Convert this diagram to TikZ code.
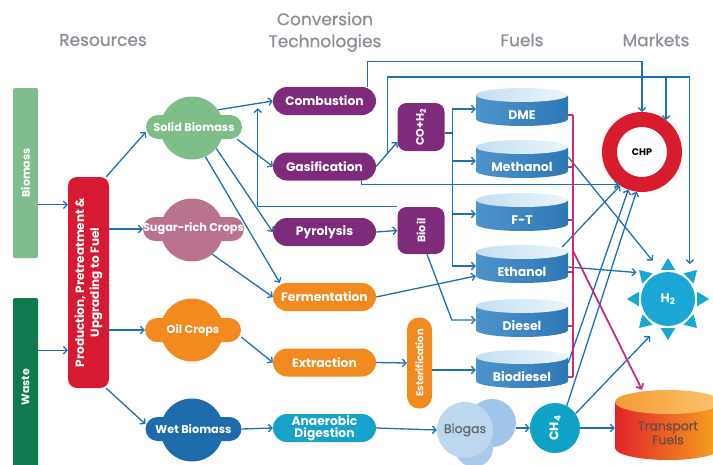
\documentclass[tikz,border=0pt]{standalone}
\usepackage{fontspec}
\setmainfont{Poppins}
\newfontfamily\headfont{Poppins}[FakeBold=0.7]
\usepackage{graphicx}
\usetikzlibrary{arrows.meta,calc}

\definecolor{titlegray}{HTML}{8A8F95}
\definecolor{biogreen}{HTML}{80BC8D}
\definecolor{wastegreen}{HTML}{0F7A50}
\definecolor{prodred}{HTML}{D71A31}
\definecolor{solidgreen}{HTML}{7EBC88}
\definecolor{sugarpink}{HTML}{B9738F}
\definecolor{oilorange}{HTML}{F38A1F}
\definecolor{wetblue}{HTML}{1E6BAC}
\definecolor{convpurple}{HTML}{7E2B7C}
\definecolor{digcyan}{HTML}{17A3C9}
\definecolor{lineblue}{HTML}{1E70B4}
\definecolor{magpink}{HTML}{C42D80}
\definecolor{chpred}{HTML}{D91B2E}
\definecolor{sunblue}{HTML}{1BA7D5}
\definecolor{ch4cyan}{HTML}{0FA2C7}
\definecolor{gasA}{HTML}{BDD7EF}
\definecolor{gasB}{HTML}{A1C5E8}
\definecolor{gasC}{HTML}{A9CAEA}
\definecolor{gastext}{HTML}{5E666F}
\definecolor{fuelL}{HTML}{4E94CB}
\definecolor{fuelM}{HTML}{A9D1EC}
\definecolor{fuelR}{HTML}{2E77B6}
\definecolor{fueltopA}{HTML}{C4DFF2}
\definecolor{fueltopB}{HTML}{EAF5FC}
\definecolor{tfL}{HTML}{E0232B}
\definecolor{tfM}{HTML}{F47B20}
\definecolor{tfR}{HTML}{F7A61E}
\definecolor{tftopA}{HTML}{F49A35}
\definecolor{tftopB}{HTML}{FBC56E}
\definecolor{tftext}{HTML}{6A4B44}

\tikzset{
  headtxt/.style={text=titlegray, font=\headfont\fontsize{17}{22}\selectfont, align=center},
  srcbar/.style={fill=#1, minimum width=25pt, rounded corners=2pt, inner sep=0pt, text=white, font=\bfseries\fontsize{11}{13}\selectfont},
  prodbox/.style={fill=prodred, minimum width=41pt, minimum height=211pt, rounded corners=9pt, inner sep=0pt, text=white, font=\bfseries\fontsize{12}{15}\selectfont},
  blob/.style={circle, fill=#1, minimum size=63pt, inner sep=0pt},
  blobtxt/.style={fill=#1, rounded corners=12pt, minimum width=96pt, minimum height=24pt, inner sep=0pt, text=white, font=\bfseries\fontsize{11.3}{13}\selectfont},
  conv/.style={fill=#1, rounded corners=14pt, minimum width=103pt, minimum height=28pt, inner sep=0pt, text=white, font=\bfseries\fontsize{12.3}{12}\selectfont, align=center},
  midbox/.style={fill=convpurple, rounded corners=9pt, minimum width=47pt, minimum height=48pt, inner sep=0pt, text=white, font=\bfseries\fontsize{11}{13}\selectfont},
  fueltxt/.style={minimum width=92pt, minimum height=16pt, inner sep=0pt, text=white, font=\bfseries\fontsize{12.5}{14}\selectfont},
  arr/.style={draw=lineblue, line width=1.3pt, -{Straight Barb[length=3.5pt,width=7.5pt]}},
  plainline/.style={draw=lineblue, line width=1.3pt},
  bracket/.style={draw=magpink, line width=1.8pt},
  bracketarr/.style={bracket, -{Straight Barb[length=4pt,width=8pt]}},
}

\begin{document}
\begin{tikzpicture}[x=1pt,y=-1pt]
\useasboundingbox (0,0) rectangle (713,464);

% column heads
\node[headtxt] (tres) at (103,40) {Resources};
\node[headtxt] (tconv) at (325,32) {Conversion\\Technologies};
\node[headtxt] (tfuel) at (522,40) {Fuels};
\node[headtxt] (tmark) at (656,40) {Markets};

% resources
\node[srcbar=biogreen, minimum height=170pt] (biomass) at (25.5,173) {\rotatebox{90}{Biomass}};
\node[srcbar=wastegreen, minimum height=178pt] (waste) at (25.5,387) {\rotatebox{90}{Waste}};
\node[prodbox] (prod) at (88.5,282.5) {\rotatebox{90}{\begin{tabular}{@{}c@{}}Production, Pretreatment \&\\Upgrading to Fuel\end{tabular}}};

\node[blob=solidgreen] (solidc) at (192,128) {};
\node[blobtxt=solidgreen] (solid) at (194,127) {Solid Biomass};
\node[blob=sugarpink] (sugarc) at (192,230) {};
\node[blobtxt=sugarpink] (sugar) at (193.5,229) {Sugar-rich Crops};
\node[blob=oilorange] (oilc) at (192,330) {};
\node[blobtxt=oilorange] (oil) at (193,330) {Oil Crops};
\node[blob=wetblue] (wetc) at (192,430) {};
\node[blobtxt=wetblue] (wet) at (193.5,429) {Wet Biomass};

% conversion
\node[conv=convpurple] (comb) at (324.5,101) {Combustion};
\node[conv=convpurple] (gasif) at (324.5,166.5) {Gasification};
\node[conv=convpurple] (pyro) at (324.5,232) {Pyrolysis};
\node[conv=oilorange] (ferm) at (324.5,297) {Fermentation};
\node[conv=oilorange] (extr) at (324.5,362.5) {Extraction};
\node[conv=digcyan] (anaer) at (324.5,428) {Anaerobic\\Digestion};

\node[midbox] (coh) at (421,127) {\rotatebox{90}{CO+H\textsubscript{2}}};
\node[midbox, minimum height=47pt] (bioil) at (421,230.5) {\rotatebox{90}{Bioil}};
\node[conv=oilorange, minimum width=25pt, minimum height=91pt, rounded corners=12pt, font=\bfseries\fontsize{10}{12}\selectfont] (ester) at (419.5,363) {\rotatebox{90}{Esterification}};

% fuels
\foreach \t/\n/\l in {115/dme/DME,167/meth/Methanol,220/ft/F-T,272/eth/Ethanol,326/dies/Diesel,377/biod/Biodiesel}{
  \shade[left color=fuelL, middle color=fuelM, right color=fuelR]
    (476,\t-20) -- (476,\t+4) arc[start angle=180, end angle=360, x radius=46pt, y radius=7pt] -- (568,\t-20) -- cycle;
  \shade[left color=fueltopA, right color=fueltopB] (522,\t-20) ellipse[x radius=46pt, y radius=7pt];
  \node[fueltxt] (\n) at (522,\t) {\l};
}

\node[circle, fill=gasB, minimum size=48pt, inner sep=0pt] (biogasb) at (492,423) {};
\node[circle, fill=gasC, minimum size=38pt, inner sep=0pt] (biogasc) at (474,448) {};
\node[circle, fill=gasA, minimum size=56pt, inner sep=0pt, text=gastext, font=\headfont\fontsize{12.5}{14}\selectfont] (biogas) at (465,430) {Biogas};
\node[circle, fill=ch4cyan, minimum size=50pt, inner sep=0pt, text=white, font=\bfseries\fontsize{12.5}{14}\selectfont] (ch4) at (555,428) {\rotatebox{90}{CH\textsubscript{4}}};

% markets
\node[circle, draw=chpred, line width=15pt, minimum size=65pt, inner sep=0pt, font=\bfseries\fontsize{9.5}{11}\selectfont] (chp) at (642,152) {CHP};

\node[circle, minimum size=82pt, inner sep=0pt] (h2) at (668,299) {};
\fill[sunblue] (h2.center) circle (27pt);
\foreach \a in {0,45,...,315}
  \fill[sunblue, shift={(h2.center)}] (\a:41pt) -- (\a+14:30pt) -- (\a-14:30pt) -- cycle;
\node[text=white, font=\bfseries\fontsize{12.5}{14}\selectfont] (h2txt) at (h2) {H\textsubscript{2}};

\shade[left color=tfL, middle color=tfM, right color=tfR]
  (615,402) -- (615,448) arc[start angle=180, end angle=360, x radius=53pt, y radius=12pt] -- (721,402) -- cycle;
\shade[left color=tftopA, right color=tftopB] (668,402) ellipse[x radius=53pt, y radius=12pt];
\node[minimum width=106pt, minimum height=86pt, inner sep=0pt, align=center, text=tftext, font=\headfont\fontsize{12.5}{14}\selectfont] (transport) at (668,433) {Transport\\Fuels};

% feeding the resources
\coordinate (bmin) at ([yshift=-28pt]prod.north west);
\coordinate (wsin) at ([yshift=38pt]prod.south west);
\draw[arr] (biomass.east |- bmin) -- (bmin);
\draw[arr] (waste.east |- wsin) -- (wsin);
\draw[arr] ([xshift=-3pt]prod.north east) -- ([yshift=-5pt]solid.west);
\draw[arr] (prod.east |- sugar.west) -- (sugar.west);
\draw[arr] (prod.east |- oil.west) -- (oil.west);
\draw[arr] ([xshift=-3pt]prod.south east) -- ([yshift=5pt]wet.west);

% resources to conversion
\draw[arr] (solidc.35) -- (comb.west);
\draw[arr] ([xshift=-5pt]solid.south east) -- (gasif.west);
\draw[arr] (solidc.-40) -- (pyro.west);
\draw[arr] (solidc.-65) -- ([xshift=7pt]ferm.north west);
\draw[arr] (sugarc.-50) -- (ferm.west);
\draw[arr] ([yshift=-7pt]oil.east) -- (extr.west);
\draw[arr] (wet.east) -- (anaer.west);

% conversion to fuels and markets
\draw[arr] ([xshift=-9pt]comb.north east) -- ++(0,-25) -| (chp.north);
\draw[arr] (gasif.east) -- coordinate[pos=0.55] (gj) ([yshift=-15pt]coh.west);
\draw[arr] (gj) -- ++(0,-76) coordinate (gtop) -| (h2.58);
\draw[arr] (gtop -| chp.53) -- (chp.53);
\draw[arr] ([xshift=-15pt]gasif.south east) |- (chp.235);
\draw[plainline] ([yshift=-6pt]coh.east) -- ++(8,0) coordinate (cj);
\foreach \n in {dme,meth,ft,eth}
  \draw[arr] (cj) |- ([yshift=6pt]\n.west);
\draw[arr] (pyro.east) -- (bioil.west);
\draw[arr] (bioil.north west) -| ([xshift=-15pt,yshift=7pt]comb.south west);
\draw[arr] ([xshift=6pt]bioil.south) -- ([xshift=-24pt,yshift=6pt]dies.west) -- ([yshift=6pt]dies.west);
\draw[arr] (ferm.east) -- ([yshift=-4pt]eth.west);
\draw[arr] (extr.east) -- (ester.west);
\draw[arr] ([yshift=-7pt]ester.east) -- ([yshift=7pt]biod.west);
\draw[arr] (anaer.east) -- (biogas.west);
\draw[arr] (biogasb.east |- ch4.west) -- (ch4.west);
\draw[arr] (ch4.east) -- (ch4.east -| transport.west);

% fuels to markets
\draw[arr] ([yshift=10pt]meth.east) -- (h2.112);
\draw[arr] ([yshift=5pt]eth.east) -- (h2.140);
\draw[arr] ([xshift=-6pt,yshift=25pt]eth.east) -- (chp.237);
\draw[arr] ([yshift=14pt]biod.east) -- (chp.250);
\draw[arr] (ch4.62) -- (chp.262);
\draw[arr] (ch4.35) -- (h2.244);

\foreach \n in {dme,meth,ft,eth,dies,biod}
  \draw[bracket] (\n.east) -- ++(5,0);
\draw[bracket] ([xshift=5pt]dme.east) -- coordinate[pos=0.52] (mj) ([xshift=5pt]biod.east);
\draw[bracketarr] (mj) -- ([xshift=-26pt]transport.north);

\end{tikzpicture}
\end{document}
